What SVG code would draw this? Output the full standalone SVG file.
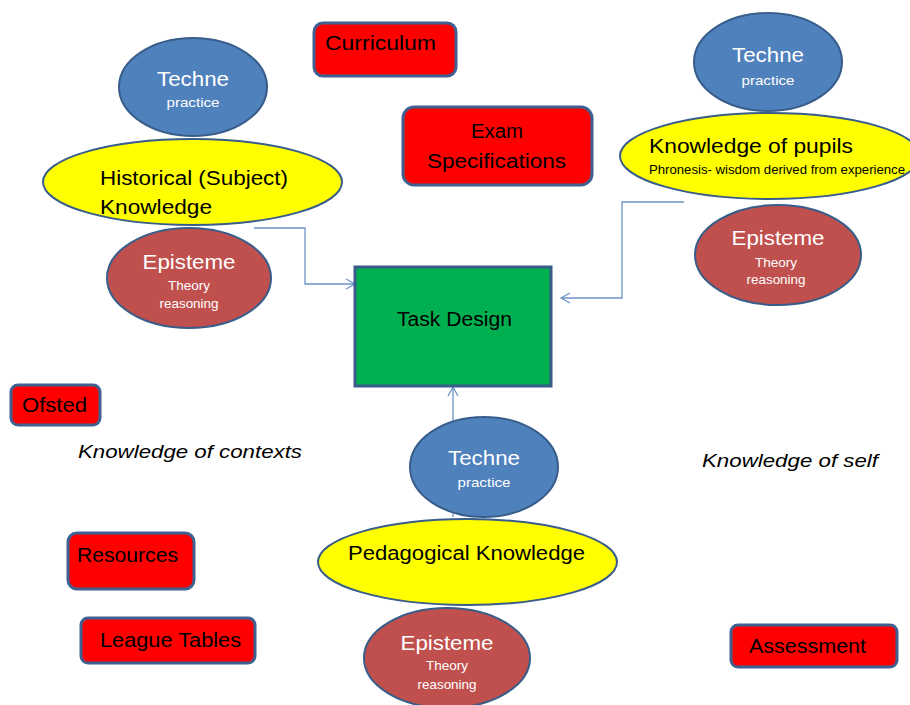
<svg xmlns="http://www.w3.org/2000/svg" width="910" height="705" viewBox="0 0 910 705">
<defs>
<style>
text{font-family:"Liberation Sans","Open Sans",sans-serif;}
.box{fill:#FF0000;stroke:#3E6191;stroke-width:3;}
.tech{fill:#4F81BD;stroke:#385D8A;stroke-width:2;}
.epi{fill:#C0504D;stroke:#385D8A;stroke-width:2;}
.yel{fill:#FFFF00;stroke:#385D8A;stroke-width:2;}
.task{fill:#00B050;stroke:#385D8A;stroke-width:3;}
.big{font-size:21px;fill:#fff;}
.small{font-size:13px;fill:#fff;}
.lbl{font-size:20px;fill:#000;}
.it{font-size:19px;font-style:italic;fill:#000;}
.conn{fill:none;stroke:#6E93C7;stroke-width:1.3;}
</style>
<marker id="arr" markerWidth="12" markerHeight="12" refX="10" refY="6" orient="auto" markerUnits="userSpaceOnUse">
<path d="M1,1 L10,6 L1,11" fill="none" stroke="#6E93C7" stroke-width="1.3"/>
</marker>
</defs>
<rect width="910" height="705" fill="#fff"/>
<g id="connectors">
<path class="conn" d="M254,228 H305 V284 H355" marker-end="url(#arr)"/>
<path class="conn" d="M684,202 H622 V298 H561" marker-end="url(#arr)"/>
<path class="conn" d="M453,517 V387" marker-end="url(#arr)"/>
</g>
<g id="task-design">
<rect class="task" x="355" y="267" width="196" height="119"/>
<text class="lbl" x="397" y="326" textLength="115" lengthAdjust="spacingAndGlyphs">Task Design</text>
</g>
<g id="curriculum">
<rect class="box" x="314" y="23" width="142" height="53" rx="9"/>
<text class="lbl" x="325" y="50" textLength="111" lengthAdjust="spacingAndGlyphs">Curriculum</text>
</g>
<g id="exam-specifications">
<rect class="box" x="403" y="107" width="189" height="78" rx="11"/>
<text class="lbl" x="471" y="138" textLength="52" lengthAdjust="spacingAndGlyphs">Exam</text>
<text class="lbl" x="427" y="168" textLength="139" lengthAdjust="spacingAndGlyphs">Specifications</text>
</g>
<g id="ofsted">
<rect class="box" x="11" y="385" width="89" height="40" rx="7"/>
<text class="lbl" x="22" y="412" textLength="65" lengthAdjust="spacingAndGlyphs">Ofsted</text>
</g>
<g id="resources">
<rect class="box" x="68" y="533" width="126" height="56" rx="9"/>
<text class="lbl" x="77" y="562" textLength="101" lengthAdjust="spacingAndGlyphs">Resources</text>
</g>
<g id="league-tables">
<rect class="box" x="81" y="618" width="174" height="45" rx="7"/>
<text class="lbl" x="100" y="647" textLength="141" lengthAdjust="spacingAndGlyphs">League Tables</text>
</g>
<g id="assessment">
<rect class="box" x="731" y="625" width="166" height="42" rx="7"/>
<text class="lbl" x="749" y="653" textLength="117" lengthAdjust="spacingAndGlyphs">Assessment</text>
</g>
<g id="knowledge-of-contexts">
<text class="it" x="78" y="458" textLength="224" lengthAdjust="spacingAndGlyphs">Knowledge  of contexts</text>
</g>
<g id="knowledge-of-self">
<text class="it" x="702" y="467" textLength="176" lengthAdjust="spacingAndGlyphs">Knowledge  of self</text>
</g>
<g id="historical-cluster">
<ellipse class="tech" cx="193" cy="87" rx="74" ry="49"/>
<text class="big" x="193" y="86" text-anchor="middle" textLength="72" lengthAdjust="spacingAndGlyphs">Techne</text>
<text class="small" x="193" y="107" text-anchor="middle" textLength="53" lengthAdjust="spacingAndGlyphs">practice</text>
<ellipse class="epi" cx="189" cy="278" rx="82" ry="50"/>
<text class="big" x="189" y="269" text-anchor="middle" textLength="93" lengthAdjust="spacingAndGlyphs">Episteme</text>
<text class="small" x="189" y="290" text-anchor="middle" textLength="42" lengthAdjust="spacingAndGlyphs">Theory</text>
<text class="small" x="189" y="308" text-anchor="middle" textLength="59" lengthAdjust="spacingAndGlyphs">reasoning</text>
<ellipse class="yel" cx="192.5" cy="182" rx="149.5" ry="43"/>
<text class="lbl" x="100" y="185" textLength="188" lengthAdjust="spacingAndGlyphs">Historical (Subject)</text>
<text class="lbl" x="100" y="214" textLength="112" lengthAdjust="spacingAndGlyphs">Knowledge</text>
</g>
<g id="pupils-cluster">
<ellipse class="tech" cx="768" cy="62" rx="74" ry="49"/>
<text class="big" x="768" y="62" text-anchor="middle" textLength="72" lengthAdjust="spacingAndGlyphs">Techne</text>
<text class="small" x="768" y="85" text-anchor="middle" textLength="53" lengthAdjust="spacingAndGlyphs">practice</text>
<ellipse class="epi" cx="778" cy="255" rx="83" ry="50"/>
<text class="big" x="778" y="245" text-anchor="middle" textLength="93" lengthAdjust="spacingAndGlyphs">Episteme</text>
<text class="small" x="776" y="267" text-anchor="middle" textLength="42" lengthAdjust="spacingAndGlyphs">Theory</text>
<text class="small" x="776" y="284" text-anchor="middle" textLength="59" lengthAdjust="spacingAndGlyphs">reasoning</text>
<ellipse class="yel" cx="770" cy="156" rx="150" ry="43"/>
<text class="lbl" x="649" y="153" textLength="204" lengthAdjust="spacingAndGlyphs">Knowledge of pupils</text>
<text x="649" y="174" font-size="12.5" fill="#000" textLength="256" lengthAdjust="spacingAndGlyphs">Phronesis-  wisdom derived from experience</text>
</g>
<g id="pedagogical-cluster">
<ellipse class="tech" cx="484" cy="467" rx="74" ry="50"/>
<text class="big" x="484" y="465" text-anchor="middle" textLength="72" lengthAdjust="spacingAndGlyphs">Techne</text>
<text class="small" x="484" y="487" text-anchor="middle" textLength="53" lengthAdjust="spacingAndGlyphs">practice</text>
<ellipse class="epi" cx="447" cy="658" rx="83" ry="50"/>
<text class="big" x="447" y="650" text-anchor="middle" textLength="93" lengthAdjust="spacingAndGlyphs">Episteme</text>
<text class="small" x="447" y="670" text-anchor="middle" textLength="42" lengthAdjust="spacingAndGlyphs">Theory</text>
<text class="small" x="447" y="689" text-anchor="middle" textLength="59" lengthAdjust="spacingAndGlyphs">reasoning</text>
<ellipse class="yel" cx="467.5" cy="562" rx="149.5" ry="43"/>
<text class="lbl" x="348" y="560" textLength="237" lengthAdjust="spacingAndGlyphs">Pedagogical Knowledge</text>
</g>
</svg>
